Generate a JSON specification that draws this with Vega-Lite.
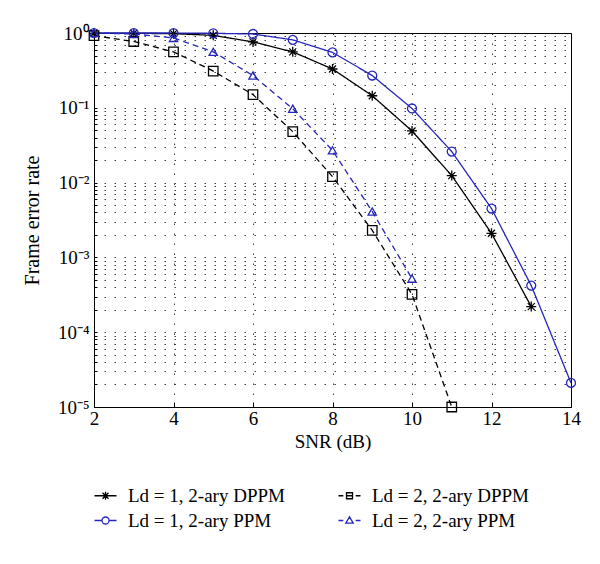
{
  "$schema": "https://vega.github.io/schema/vega-lite/v6.json",
  "width": 477,
  "height": 374,
  "autosize": {"type": "none"},
  "padding": {"left": 94, "top": 33, "right": 29, "bottom": 157},
  "background": "white",
  "config": {
    "font": "Liberation Serif",
    "view": {"stroke": "black", "strokeWidth": 1},
    "axis": {
      "labelFont": "Liberation Serif",
      "titleFont": "Liberation Serif",
      "labelColor": "black",
      "titleColor": "black",
      "domainColor": "black",
      "tickColor": "black",
      "gridColor": "black",
      "gridOpacity": 0.75,
      "gridDash": [1.5, 8.5],
      "titleFontWeight": "normal"
    },
    "legend": {
      "labelFont": "Liberation Serif",
      "labelFontSize": 19,
      "labelColor": "black"
    }
  },
  "data": {
    "values": [
      {"snr": 2, "fer": 0.99, "series": "Ld = 1, 2-ary DPPM", "curve": "c1"},
      {"snr": 3, "fer": 0.99, "series": "Ld = 1, 2-ary DPPM", "curve": "c1"},
      {"snr": 4, "fer": 0.98, "series": "Ld = 1, 2-ary DPPM", "curve": "c1"},
      {"snr": 5, "fer": 0.93, "series": "Ld = 1, 2-ary DPPM", "curve": "c1"},
      {"snr": 6, "fer": 0.76, "series": "Ld = 1, 2-ary DPPM", "curve": "c1"},
      {"snr": 7, "fer": 0.56, "series": "Ld = 1, 2-ary DPPM", "curve": "c1"},
      {"snr": 8, "fer": 0.33, "series": "Ld = 1, 2-ary DPPM", "curve": "c1"},
      {"snr": 9, "fer": 0.145, "series": "Ld = 1, 2-ary DPPM", "curve": "c1"},
      {"snr": 10, "fer": 0.049, "series": "Ld = 1, 2-ary DPPM", "curve": "c1"},
      {"snr": 11, "fer": 0.0124, "series": "Ld = 1, 2-ary DPPM", "curve": "c1"},
      {"snr": 12, "fer": 0.0021, "series": "Ld = 1, 2-ary DPPM", "curve": "c1"},
      {"snr": 13, "fer": 0.00022, "series": "Ld = 1, 2-ary DPPM", "curve": "c1"},
      {"snr": 2, "fer": 1.0, "series": "Ld = 1, 2-ary PPM", "curve": "c3"},
      {"snr": 3, "fer": 1.0, "series": "Ld = 1, 2-ary PPM", "curve": "c3"},
      {"snr": 4, "fer": 1.0, "series": "Ld = 1, 2-ary PPM", "curve": "c3"},
      {"snr": 5, "fer": 0.99, "series": "Ld = 1, 2-ary PPM", "curve": "c3"},
      {"snr": 6, "fer": 0.97, "series": "Ld = 1, 2-ary PPM", "curve": "c3"},
      {"snr": 7, "fer": 0.81, "series": "Ld = 1, 2-ary PPM", "curve": "c3"},
      {"snr": 8, "fer": 0.55, "series": "Ld = 1, 2-ary PPM", "curve": "c3"},
      {"snr": 9, "fer": 0.27, "series": "Ld = 1, 2-ary PPM", "curve": "c3"},
      {"snr": 10, "fer": 0.098, "series": "Ld = 1, 2-ary PPM", "curve": "c3"},
      {"snr": 11, "fer": 0.026, "series": "Ld = 1, 2-ary PPM", "curve": "c3"},
      {"snr": 12, "fer": 0.0045, "series": "Ld = 1, 2-ary PPM", "curve": "c3"},
      {"snr": 13, "fer": 0.00042, "series": "Ld = 1, 2-ary PPM", "curve": "c3"},
      {"snr": 14, "fer": 0.000021, "series": "Ld = 1, 2-ary PPM", "curve": "c3"},
      {"snr": 2, "fer": 0.92, "series": "Ld = 2, 2-ary DPPM", "curve": "c2"},
      {"snr": 3, "fer": 0.77, "series": "Ld = 2, 2-ary DPPM", "curve": "c2"},
      {"snr": 4, "fer": 0.56, "series": "Ld = 2, 2-ary DPPM", "curve": "c2"},
      {"snr": 5, "fer": 0.31, "series": "Ld = 2, 2-ary DPPM", "curve": "c2"},
      {"snr": 6, "fer": 0.15, "series": "Ld = 2, 2-ary DPPM", "curve": "c2"},
      {"snr": 7, "fer": 0.048, "series": "Ld = 2, 2-ary DPPM", "curve": "c2"},
      {"snr": 8, "fer": 0.012, "series": "Ld = 2, 2-ary DPPM", "curve": "c2"},
      {"snr": 9, "fer": 0.0023, "series": "Ld = 2, 2-ary DPPM", "curve": "c2"},
      {"snr": 10, "fer": 0.00032, "series": "Ld = 2, 2-ary DPPM", "curve": "c2"},
      {"snr": 11, "fer": 0.00001, "series": "Ld = 2, 2-ary DPPM", "curve": "c2"},
      {"snr": 2, "fer": 1.0, "series": "Ld = 2, 2-ary PPM", "curve": "c4"},
      {"snr": 3, "fer": 0.97, "series": "Ld = 2, 2-ary PPM", "curve": "c4"},
      {"snr": 4, "fer": 0.86, "series": "Ld = 2, 2-ary PPM", "curve": "c4"},
      {"snr": 5, "fer": 0.56, "series": "Ld = 2, 2-ary PPM", "curve": "c4"},
      {"snr": 6, "fer": 0.27, "series": "Ld = 2, 2-ary PPM", "curve": "c4"},
      {"snr": 7, "fer": 0.097, "series": "Ld = 2, 2-ary PPM", "curve": "c4"},
      {"snr": 8, "fer": 0.027, "series": "Ld = 2, 2-ary PPM", "curve": "c4"},
      {"snr": 9, "fer": 0.0041, "series": "Ld = 2, 2-ary PPM", "curve": "c4"},
      {"snr": 10, "fer": 0.00052, "series": "Ld = 2, 2-ary PPM", "curve": "c4"}
    ]
  },
  "encoding": {
    "x": {
      "field": "snr",
      "type": "quantitative",
      "scale": {"domain": [2, 14], "nice": false, "zero": false},
      "axis": {
        "title": "SNR (dB)",
        "values": [2, 4, 6, 8, 10, 12, 14],
        "labelFontSize": 19,
        "titleFontSize": 19,
        "tickSize": -5,
        "labelPadding": 7,
        "titlePadding": 4,
        "labelFlush": false
      }
    },
    "y": {
      "field": "fer",
      "type": "quantitative",
      "scale": {"type": "log", "domain": [0.00001, 1], "nice": false},
      "axis": {
        "title": "Frame error rate",
        "values": [0.00001, 0.00002, 0.00003, 0.00004, 0.00005, 0.00006, 0.00007, 0.00008, 0.00009,
                   0.0001, 0.0002, 0.0003, 0.0004, 0.0005, 0.0006, 0.0007, 0.0008, 0.0009,
                   0.001, 0.002, 0.003, 0.004, 0.005, 0.006, 0.007, 0.008, 0.009,
                   0.01, 0.02, 0.03, 0.04, 0.05, 0.06, 0.07, 0.08, 0.09,
                   0.1, 0.2, 0.3, 0.4, 0.5, 0.6, 0.7, 0.8, 0.9, 1],
        "labelExpr": "abs(log(datum.value)/LN10 - round(log(datum.value)/LN10)) < 0.001 ? (round(log(datum.value)/LN10) == 0 ? '10⁰' : round(log(datum.value)/LN10) == -1 ? '10⁻¹' : round(log(datum.value)/LN10) == -2 ? '10⁻²' : round(log(datum.value)/LN10) == -3 ? '10⁻³' : round(log(datum.value)/LN10) == -4 ? '10⁻⁴' : '10⁻⁵') : ''",
        "labelFontSize": 19,
        "titleFontSize": 20,
        "tickSize": -3,
        "labelPadding": 8,
        "titlePadding": 15,
        "labelFlush": false,
        "labelOverlap": false
      }
    }
  },
  "layer": [
    {
      "mark": {"type": "line", "strokeWidth": 1.3},
      "encoding": {
        "color": {
          "field": "series",
          "type": "nominal",
          "scale": {
            "domain": ["Ld = 1, 2-ary DPPM", "Ld = 2, 2-ary DPPM", "Ld = 1, 2-ary PPM", "Ld = 2, 2-ary PPM"],
            "range": ["#000000", "#000000", "#2626bb", "#2626bb"]
          },
          "legend": {
            "title": null,
            "orient": "bottom",
            "direction": "horizontal",
            "columns": 2,
            "offset": 35,
            "symbolSize": 36,
            "symbolStrokeWidth": 1.3,
            "labelOffset": 15,
            "columnPadding": 50,
            "rowPadding": 5,
            "encode": {
              "symbols": {
                "update": {
                  "shape": {"signal": "datum.value == 'Ld = 1, 2-ary DPPM' ? 'M-3,0H4.33M-0.33,-1L1.67,1M-0.33,1L1.67,-1M0.67,-1.3V1.3' : datum.value == 'Ld = 1, 2-ary PPM' ? 'M-3,0H-0.5M1.84,0H4.33M1.84,0A1.17,1.17 0 1,1 -0.5,0A1.17,1.17 0 1,1 1.84,0' : datum.value == 'Ld = 2, 2-ary DPPM' ? 'M-3,0H-1.4M2.74,0H4.33M-0.33,-1H1.67V1H-0.33ZM-0.33,0H1.67' : 'M-3,0H-1.4M2.74,0H4.33M0.67,-1.2L1.9,0.9H-0.56Z'"},
                  "fill": {"value": "transparent"},
                  "strokeDash": {"value": []}
                }
              }
            }
          }
        },
        "strokeDash": {
          "field": "curve",
          "type": "nominal",
          "scale": {
            "domain": ["c1", "c2", "c3", "c4"],
            "range": [[1, 0], [6, 4], [1, 0], [6, 4]]
          },
          "legend": null
        }
      }
    },
    {
      "mark": {"type": "point", "filled": false, "strokeWidth": 1.3, "opacity": 1},
      "encoding": {
        "color": {"field": "series", "type": "nominal"},
        "shape": {
          "field": "curve",
          "type": "nominal",
          "scale": {
            "domain": ["c1", "c2", "c3", "c4"],
            "range": ["M-1,0H1M0,-1V1M-0.7,-0.7L0.7,0.7M-0.7,0.7L0.7,-0.7", "square", "circle", "triangle-up"]
          },
          "legend": null
        },
        "size": {
          "field": "curve",
          "type": "nominal",
          "scale": {
            "domain": ["c1", "c2", "c3", "c4"],
            "range": [100, 70, 95, 115]
          },
          "legend": null
        }
      }
    }
  ]
}
